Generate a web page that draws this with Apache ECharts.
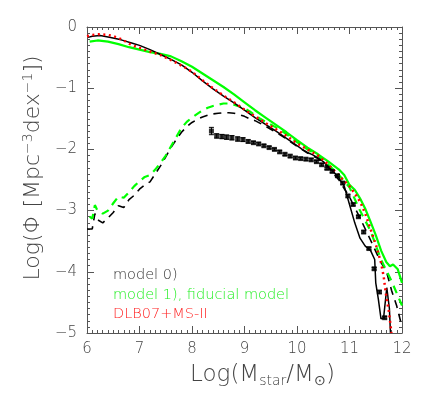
<!DOCTYPE html>
<html><head><meta charset="utf-8">
<script src="https://cdn.jsdelivr.net/npm/echarts@6/dist/echarts.min.js"></script>
<style>html,body{margin:0;padding:0;background:#fff}#c{width:432px;height:393px}</style>
</head><body><div id="c"></div>
<script>
// ---- data ----
const xTicks = [6, 7, 8, 9, 10, 11, 12];
const yTicks = [-5, -4, -3, -2, -1, 0];

const model0Mass = [6.02,6.1,6.25,6.45,6.65,6.85,7.0,7.2,7.4,7.6,7.8,8.0,8.2,8.4,8.6,8.8,9.0,9.2,9.4,9.6,9.8,10.0,10.1,10.2,10.3,10.4,10.5,10.6,10.7,10.8,10.9,11.0,11.1,11.2,11.3,11.4,11.48,11.5,11.55,11.6,11.65,11.71,11.76,11.78];
const model0Phi  = [-0.17,-0.15,-0.14,-0.17,-0.21,-0.26,-0.30,-0.37,-0.45,-0.53,-0.62,-0.74,-0.88,-1.01,-1.13,-1.24,-1.36,-1.48,-1.59,-1.70,-1.82,-1.94,-2.0,-2.05,-2.09,-2.14,-2.2,-2.28,-2.37,-2.47,-2.6,-2.9,-3.2,-3.45,-3.58,-3.65,-3.8,-4.18,-4.45,-4.77,-4.75,-4.26,-4.6,-5.0];

const model1Mass = [6.05,6.2,6.4,6.6,6.8,7.0,7.2,7.4,7.6,7.8,8.0,8.2,8.4,8.6,8.8,9.0,9.2,9.4,9.6,9.8,10.0,10.2,10.4,10.6,10.8,10.9,11.0,11.1,11.2,11.3,11.4,11.5,11.6,11.7,11.77,11.83,11.92,12.0];
const model1Phi  = [-0.24,-0.22,-0.24,-0.28,-0.33,-0.37,-0.41,-0.44,-0.48,-0.56,-0.65,-0.76,-0.87,-0.98,-1.1,-1.23,-1.36,-1.48,-1.6,-1.72,-1.85,-1.97,-2.08,-2.2,-2.33,-2.42,-2.58,-2.66,-2.8,-2.97,-3.18,-3.4,-3.65,-3.84,-3.91,-3.88,-3.96,-4.18];

const dlbMass = [6.0,6.1,6.2,6.3,6.4,6.5,6.6,6.7,6.8,6.9,7.0,7.2,7.4,7.6,7.8,8.0,8.2,8.4,8.6,8.8,9.0,9.2,9.4,9.6,9.8,10.0,10.2,10.4,10.6,10.8,11.0,11.1,11.2,11.3,11.4,11.5,11.6,11.65,11.7,11.75,11.8];
const dlbPhi  = [-0.15,-0.13,-0.12,-0.12,-0.13,-0.15,-0.18,-0.22,-0.27,-0.31,-0.34,-0.40,-0.46,-0.54,-0.63,-0.73,-0.87,-1.0,-1.12,-1.23,-1.35,-1.46,-1.57,-1.67,-1.78,-1.9,-2.0,-2.1,-2.25,-2.43,-2.6,-2.72,-2.85,-3.05,-3.3,-3.55,-3.85,-4.07,-4.4,-4.65,-5.0];

const model0bMass = [6.0,6.1,6.15,6.2,6.3,6.4,6.5,6.6,6.7,6.8,6.9,7.0,7.1,7.2,7.3,7.4,7.5,7.6,7.7,7.8,7.9,8.0,8.1,8.2,8.3,8.4,8.5,8.6,8.7,8.8,8.9,9.0,9.1,9.2,9.4,9.6,9.8,10.0,10.2,10.4,10.6,10.8,11.0,11.2,11.4,11.6,11.7,11.8,11.9,12.0];
const model0bPhi  = [-3.3,-3.3,-3.05,-3.15,-3.2,-3.12,-3.03,-2.92,-2.95,-2.82,-2.75,-2.65,-2.58,-2.53,-2.4,-2.27,-2.12,-1.97,-1.84,-1.72,-1.63,-1.56,-1.51,-1.47,-1.44,-1.42,-1.41,-1.4,-1.4,-1.41,-1.43,-1.46,-1.5,-1.53,-1.62,-1.72,-1.83,-1.95,-2.06,-2.15,-2.3,-2.5,-2.78,-3.12,-3.48,-3.85,-3.98,-4.3,-4.56,-4.9];

const model1bMass = [6.05,6.1,6.15,6.2,6.3,6.4,6.5,6.6,6.7,6.8,6.9,7.0,7.1,7.2,7.3,7.4,7.5,7.6,7.7,7.8,7.9,8.0,8.1,8.2,8.3,8.4,8.5,8.6,8.7,8.8,8.9,9.0,9.1,9.2,9.3,9.4,9.6,9.8,10.0,10.2,10.4,10.6,10.8,11.0,11.2,11.4,11.6,11.8,11.9,12.0];
const model1bPhi  = [-3.1,-3.13,-2.91,-3.0,-3.05,-3.0,-2.88,-2.77,-2.79,-2.7,-2.6,-2.52,-2.45,-2.42,-2.33,-2.22,-2.1,-1.95,-1.8,-1.65,-1.55,-1.48,-1.42,-1.36,-1.32,-1.29,-1.27,-1.25,-1.25,-1.27,-1.3,-1.33,-1.38,-1.44,-1.5,-1.55,-1.64,-1.75,-1.88,-2.0,-2.1,-2.25,-2.42,-2.62,-3.0,-3.33,-3.8,-4.15,-4.35,-4.55];

const obsMass = [8.37,8.47,8.57,8.66,8.76,8.87,8.97,9.07,9.17,9.27,9.37,9.47,9.57,9.67,9.77,9.87,9.97,10.07,10.17,10.27,10.37,10.47,10.57,10.67,10.77,10.87,10.97,11.07,11.17,11.27,11.37,11.47,11.57,11.67];
const obsPhi  = [-1.70,-1.78,-1.79,-1.80,-1.81,-1.83,-1.84,-1.87,-1.89,-1.91,-1.94,-1.97,-2.0,-2.04,-2.08,-2.11,-2.14,-2.15,-2.16,-2.17,-2.2,-2.25,-2.31,-2.36,-2.43,-2.55,-2.76,-2.9,-3.1,-3.35,-3.62,-3.95,-4.33,-4.75];
const obsErr  = [0.06,0.035,0.035,0.035,0.035,0.035,0.03,0.025,0.02,0.02,0.02,0.02,0.02,0.02,0.02,0.02,0.02,0.02,0.02,0.02,0.02,0.02,0.02,0.02,0.02,0.02,0.02,0.02,0.02,0.02,0.02,0.02,0.02,0.02];

const legendLabels = ['model 0)', 'model 1), fiducial model', 'DLB07+MS-II'];
// ---------------

const pairs = (xs, ys) => xs.map((x, i) => [x, ys[i]]);
const FONT = '"DejaVu Sans"';
const minus = v => (v < 0 ? '\u2212' + Math.abs(v) : String(v));

const chart = echarts.init(document.getElementById('c'), null, {renderer: 'canvas'});

const axisLineStyle = {color: '#555', width: 1};
const baseX = {
  type: 'value', min: 6, max: 12, interval: 1,
  axisLine: {show: true, onZero: false, lineStyle: axisLineStyle},
  axisTick: {show: true, inside: true, length: 7, lineStyle: axisLineStyle},
  minorTick: {show: true, splitNumber: 10, length: 3, lineStyle: axisLineStyle},
  splitLine: {show: false}
};
const baseY = {
  type: 'value', min: -5, max: 0, interval: 1,
  axisLine: {show: true, onZero: false, lineStyle: axisLineStyle},
  axisTick: {show: true, inside: true, length: 7, lineStyle: axisLineStyle},
  minorTick: {show: true, splitNumber: 10, length: 3, lineStyle: axisLineStyle},
  splitLine: {show: false}
};

chart.setOption({
  animation: false,
  backgroundColor: '#fff',
  grid: {left: 87, right: 30, top: 27, bottom: 56},
  xAxis: [
    Object.assign({}, baseX, {
      position: 'bottom',
      axisLabel: {color: '#444', fontFamily: FONT, fontWeight: 200, fontSize: 15, margin: 9,
        formatter: v => xTicks.includes(v) ? String(v) : ''},
      name: '{n|Log(M}{s|star}{n|/M}{s|\u2299}{n|)}',
      nameLocation: 'middle', nameGap: 29,
      nameTextStyle: {padding: [0, 0, 0, 36],
        rich: {
          n: {fontFamily: FONT, fontWeight: 200, fontSize: 23, color: '#444'},
          s: {fontFamily: FONT, fontWeight: 200, fontSize: 14, color: '#444', verticalAlign: 'bottom', padding: [12, 0, 0, 0]}
        }}
    }),
    Object.assign({}, baseX, {position: 'top', axisLabel: {show: false}})
  ],
  yAxis: [
    Object.assign({}, baseY, {
      position: 'left',
      axisLabel: {color: '#444', fontFamily: FONT, fontWeight: 200, fontSize: 15, margin: 10,
        formatter: v => yTicks.includes(v) ? minus(v) : ''},
      name: '{n|Log(\u03A6 [Mpc}{p|\u22123}{n|dex}{p|\u22121}{n|])}',
      nameLocation: 'middle', nameRotate: 90, nameGap: 30,
      nameTextStyle: {padding: [0, 0, 0, 24],
        rich: {
          n: {fontFamily: FONT, fontWeight: 200, fontSize: 22, color: '#444'},
          p: {fontFamily: FONT, fontWeight: 200, fontSize: 14, color: '#444', verticalAlign: 'top', padding: [0, 0, 10, 0]}
        }}
    }),
    Object.assign({}, baseY, {position: 'right', axisLabel: {show: false}})
  ],
  series: [
    {type: 'line', name: 'model0 dashed', data: pairs(model0bMass, model0bPhi), showSymbol: false,
      lineStyle: {color: '#000', width: 1.6, type: [8, 6]}, z: 3},
    {type: 'line', name: 'model1 dashed', data: pairs(model1bMass, model1bPhi), showSymbol: false,
      lineStyle: {color: '#00ff00', width: 2.2, type: [8, 6]}, z: 3},
    {type: 'line', name: legendLabels[1], data: pairs(model1Mass, model1Phi), showSymbol: false,
      lineStyle: {color: '#00ff00', width: 2.2}, z: 4},
    {type: 'line', name: legendLabels[0], data: pairs(model0Mass, model0Phi), showSymbol: false,
      lineStyle: {color: '#000', width: 1.5}, z: 5},
    {type: 'line', name: legendLabels[2], data: pairs(dlbMass, dlbPhi), showSymbol: false,
      lineStyle: {color: '#ff0000', width: 2.5, type: [2, 3.5]}, z: 6},
    {type: 'custom', name: 'errors', z: 7,
      data: obsMass.map((x, i) => [x, obsPhi[i], obsErr[i]]),
      renderItem: (params, api) => {
        const x = api.value(0), y = api.value(1), e = api.value(2);
        const top = api.coord([x, y + e]), bot = api.coord([x, y - e]);
        const st = {stroke: '#000', lineWidth: 1};
        return {type: 'group', children: [
          {type: 'line', shape: {x1: top[0], y1: top[1], x2: bot[0], y2: bot[1]}, style: st},
          {type: 'line', shape: {x1: top[0] - 2.5, y1: top[1], x2: top[0] + 2.5, y2: top[1]}, style: st},
          {type: 'line', shape: {x1: bot[0] - 2.5, y1: bot[1], x2: bot[0] + 2.5, y2: bot[1]}, style: st}
        ]};
      }},
    {type: 'scatter', name: 'observed', data: pairs(obsMass, obsPhi), symbol: 'rect', symbolSize: 5,
      itemStyle: {color: '#000'}, z: 8}
  ],
  graphic: [
    {type: 'text', left: 113, top: 268, style: {text: legendLabels[0], fill: '#333', font: '200 14.5px "DejaVu Sans"'}},
    {type: 'text', left: 113, top: 288, style: {text: legendLabels[1], fill: '#22ee22', font: '200 14.5px "DejaVu Sans"'}},
    {type: 'text', left: 113, top: 307, style: {text: legendLabels[2], fill: '#ff2222', font: '200 14.5px "DejaVu Sans"'}}
  ]
});
</script>
</body></html>
